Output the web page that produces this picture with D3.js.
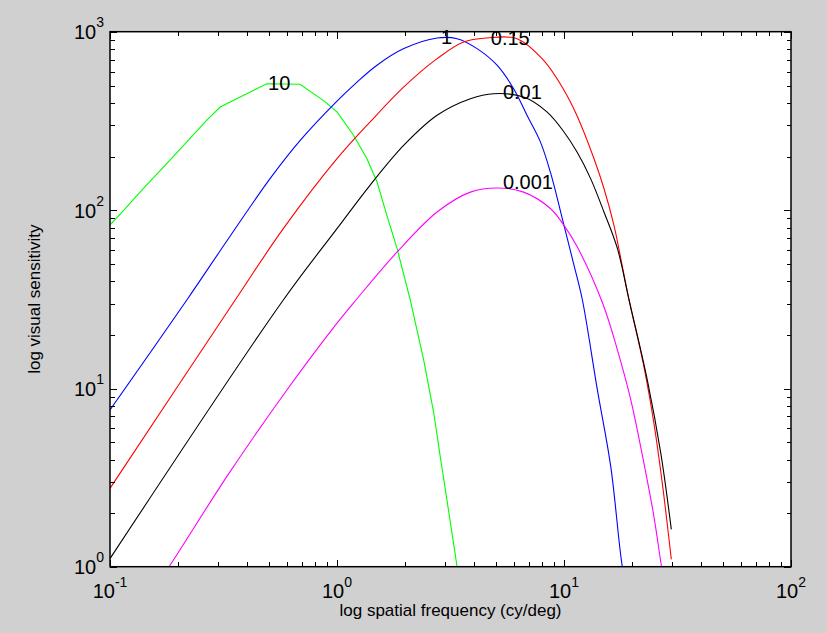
<!DOCTYPE html>
<html>
<head>
<meta charset="utf-8">
<script src="https://cdn.jsdelivr.net/npm/d3@7"></script>
<style>
  html, body { margin: 0; padding: 0; background: #d0d0d0; }
  svg { display: block; }
  .tick-label { font-family: 'Liberation Sans', Arial, Helvetica, sans-serif; font-size: 20px; fill: #000; }
  .axis-title { font-family: 'Liberation Sans', Arial, Helvetica, sans-serif; font-size: 17px; fill: #000; }
  .curve-label { font-family: 'Liberation Sans', Arial, Helvetica, sans-serif; font-size: 20px; fill: #000; }
</style>
</head>
<body>
<div id="chart"></div>
<script>
// luminance levels (curve labels) and readings of each curve
const levels = ['10', '1', '0.15', '0.01', '0.001'];
const colors = ['#00ff00', '#0000ff', '#ff0000', '#000000', '#ff00ff'];

const freq10 = [0.1, 0.111, 0.14, 0.172, 0.218, 0.267, 0.306, 0.49, 0.687, 0.87, 1.0, 1.184, 1.355, 1.5, 1.66, 1.84, 2.1, 2.41, 2.67, 2.85, 3.05, 3.38, 3.6];
const sens10 = [82.7, 95, 132, 174, 241, 319, 378, 511, 507, 412, 355, 262, 194, 144, 93, 60.7, 31.5, 14.4, 7.25, 4.14, 2.37, 1.0, 0.6];

const freq1 = [0.1, 0.218, 0.327, 0.507, 0.687, 1.0, 1.225, 1.5, 1.97, 2.76, 3.38, 4.14, 5.07, 6.0, 6.87, 7.87, 8.71, 10, 11.07, 12.04, 14.03, 16.07, 18.07, 19];
const sens1 = [7.56, 31.3, 67, 150, 245, 408, 522, 649, 804, 922, 914, 804, 649, 479, 340, 241, 163, 82, 49, 31.5, 9.8, 3.64, 1.0, 0.75];

const freq015 = [0.1, 0.356, 0.58, 1.0, 1.4, 1.97, 2.76, 3.61, 4.58, 6.21, 8.14, 10, 11.45, 13.56, 15.0, 16.6, 17.8, 19.3, 22.5, 24.9, 27.1, 29.7];
const sens015 = [2.75, 31.3, 78.6, 194, 312, 490, 706, 875, 922, 914, 690, 470, 335, 194, 132, 82, 53.3, 31.8, 13.2, 6.37, 2.94, 1.1];

const freq001 = [0.1, 0.58, 1.0, 1.4, 1.97, 2.76, 3.87, 4.9, 6.64, 8.41, 10, 11.45, 13.1, 15.0, 17.2, 19.3, 23.3, 26.7, 29.7];
const sens001 = [1.11, 31.3, 78.6, 138, 231, 340, 421, 449, 430, 355, 274, 210, 150, 97.5, 60.7, 31.8, 11.1, 4.32, 1.62];

const freq0001 = [0.15, 0.182, 0.327, 0.58, 1.0, 1.225, 1.84, 2.76, 3.87, 5.07, 6.64, 8.71, 10, 11.45, 14.8, 17.2, 19.7, 22.5, 24.9, 26.9, 28];
const sens0001 = [0.7, 1.0, 3.2, 9.18, 23.2, 31.8, 58.2, 97.5, 126, 133, 126, 102, 82, 62, 30, 16.4, 8.6, 3.8, 1.91, 1.0, 0.75];

// where each level's text sits
const labelFreq = [0.497, 2.87, 4.76, 5.38, 5.38];
const labelSens = [515, 934, 925, 459, 144];

const xDecades = [0.1, 1, 10, 100];
const xExponents = ['-1', '0', '1', '2'];
const yDecades = [1, 10, 100, 1000];
const yExponents = ['0', '1', '2', '3'];

const xTitle = 'log spatial frequency (cy/deg)';
const yTitle = 'log visual sensitivity';

const series = [
  { freq: freq10, sens: sens10, smooth: false },
  { freq: freq1, sens: sens1, smooth: true },
  { freq: freq015, sens: sens015, smooth: true },
  { freq: freq001, sens: sens001, smooth: true },
  { freq: freq0001, sens: sens0001, smooth: true },
];

const W = 827, H = 633;
const margin = { top: 31.7, right: 36, bottom: 66.3, left: 110 };
const innerW = W - margin.left - margin.right;
const innerH = H - margin.top - margin.bottom;

const svg = d3.select('#chart').append('svg').attr('width', W).attr('height', H);
svg.append('rect').attr('width', W).attr('height', H).attr('fill', '#d0d0d0');

const g = svg.append('g').attr('transform', `translate(${margin.left}, ${margin.top})`);

const x = d3.scaleLog().domain([0.1, 100]).range([0, innerW]);
const y = d3.scaleLog().domain([1, 1000]).range([innerH, 0]);

g.append('rect').attr('width', innerW).attr('height', innerH).attr('fill', '#fff');

g.append('clipPath').attr('id', 'plot-clip')
  .append('rect').attr('width', innerW).attr('height', innerH);

// curves: the 10 curve has visible corners, the rest are smooth
const straight = d3.line().x((d) => x(d[0])).y((d) => y(d[1]));
const smooth = d3.line().x((d) => x(d[0])).y((d) => y(d[1]))
  .curve(d3.curveCatmullRom.alpha(0.5));

g.append('g').attr('clip-path', 'url(#plot-clip)')
  .selectAll('path')
  .data(series)
  .join('path')
  .attr('fill', 'none')
  .attr('stroke', (d, i) => colors[i])
  .attr('stroke-width', 1.1)
  .attr('d', (d) => {
    const pts = d.freq.map((f, j) => [f, d.sens[j]]);
    return d.smooth ? smooth(pts) : straight(pts);
  });

// minor + major ticks, inward on all four sides
function logTicks(decades) {
  const out = [];
  decades.forEach((dec, i) => {
    out.push({ v: dec, major: true });
    if (i < decades.length - 1) {
      for (let k = 2; k <= 9; k++) out.push({ v: dec * k, major: false });
    }
  });
  return out;
}
const xt = logTicks(xDecades);
const yt = logTicks(yDecades);
const majorLen = 7, minorLen = 4.5;

const ticks = g.append('g').attr('stroke', '#000').attr('stroke-width', 1).attr('shape-rendering', 'crispEdges');
xt.forEach((t) => {
  const px = Math.round(x(t.v)) + 0.5;
  const len = t.major ? majorLen : minorLen;
  ticks.append('line').attr('x1', px).attr('x2', px).attr('y1', innerH).attr('y2', innerH - len);
  ticks.append('line').attr('x1', px).attr('x2', px).attr('y1', 0).attr('y2', len);
});
yt.forEach((t) => {
  const py = Math.round(y(t.v)) + 0.5;
  const len = t.major ? majorLen : minorLen;
  ticks.append('line').attr('x1', 0).attr('x2', len).attr('y1', py).attr('y2', py);
  ticks.append('line').attr('x1', innerW).attr('x2', innerW - len).attr('y1', py).attr('y2', py);
});

// box
g.append('rect').attr('width', innerW).attr('height', innerH)
  .attr('fill', 'none').attr('stroke', '#000').attr('stroke-width', 1.5);

// tick labels as 10^n
xDecades.forEach((v, i) => {
  const t = g.append('text').attr('class', 'tick-label')
    .attr('x', x(v)).attr('y', innerH + 31)
    .attr('text-anchor', 'middle');
  t.append('tspan').text('10');
  t.append('tspan').attr('dy', -11).attr('font-size', 14).text(xExponents[i]);
});
yDecades.forEach((v, i) => {
  const t = g.append('text').attr('class', 'tick-label')
    .attr('x', -6).attr('y', y(v) + 7.5)
    .attr('text-anchor', 'end');
  t.append('tspan').text('10');
  t.append('tspan').attr('dy', -12).attr('font-size', 14).text(yExponents[i]);
});

// curve labels
levels.forEach((lv, i) => {
  g.append('text').attr('class', 'curve-label')
    .attr('x', x(labelFreq[i])).attr('y', y(labelSens[i]))
    .attr('dy', '0.35em')
    .text(lv);
});

// axis titles
g.append('text').attr('class', 'axis-title')
  .attr('x', innerW / 2).attr('y', innerH + 49)
  .attr('text-anchor', 'middle')
  .text(xTitle);
g.append('text').attr('class', 'axis-title')
  .attr('transform', `translate(${-70}, ${innerH / 2}) rotate(-90)`)
  .attr('text-anchor', 'middle')
  .text(yTitle);
</script>
</body>
</html>
